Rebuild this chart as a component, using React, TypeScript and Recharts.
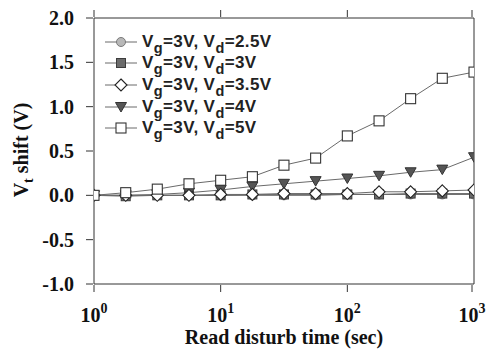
import { LineChart, Line, XAxis, YAxis } from 'recharts'

// ── Data ──────────────────────────────────────────────────────────────────────

const TIMES = [1, 1.78, 3.16, 5.62, 10, 17.8, 31.6, 56.2, 100, 178, 316, 562, 1000]
const VD25 = [0, 0, 0, 0, 0, 0, 0, 0, 0.01, 0.01, 0.01, 0.01, 0.01]
const VD3 = [0, -0.01, 0, 0, 0, 0.01, 0.01, 0.01, 0.01, 0.01, 0.02, 0.02, 0.02]
const VD35 = [0, 0, 0, 0, 0.01, 0.01, 0.02, 0.02, 0.02, 0.04, 0.04, 0.05, 0.06]
const VD4 = [0, 0, 0.01, 0.03, 0.06, 0.1, 0.13, 0.16, 0.19, 0.22, 0.26, 0.29, 0.43]
const VD5 = [0, 0.03, 0.07, 0.13, 0.17, 0.21, 0.34, 0.42, 0.67, 0.84, 1.09, 1.32, 1.39]

const X_TICKS = [1, 10, 100, 1000]
const X_EXP = ['0', '1', '2', '3']
const Y_TICKS = [-1, -0.5, 0, 0.5, 1, 1.5, 2]

const rows = TIMES.map((t, i) => ({
  t,
  vd25: VD25[i],
  vd3: VD3[i],
  vd35: VD35[i],
  vd4: VD4[i],
  vd5: VD5[i],
}))

const SERIF = '"Liberation Serif", "Times New Roman", serif'
const SANS = '"Liberation Sans", Arial, sans-serif'
const LINE = '#6a6a6a'

// ── Markers ───────────────────────────────────────────────────────────────────

type Kind = 'circle' | 'dsquare' | 'diamond' | 'tri' | 'square'

function Marker({ kind, cx, cy }: { kind: Kind; cx: number; cy: number }) {
  switch (kind) {
    case 'circle':
      return <circle cx={cx} cy={cy} r={4.5} fill="#b8b8b8" stroke="#7a7a7a" strokeWidth={1} />
    case 'dsquare':
      return <rect x={cx - 4.5} y={cy - 4.5} width={9} height={9} fill="#6b6b6b" stroke="#3c3c3c" strokeWidth={1} />
    case 'diamond':
      return (
        <path
          d={`M${cx},${cy - 6}L${cx + 6},${cy}L${cx},${cy + 6}L${cx - 6},${cy}Z`}
          fill="#fff"
          stroke="#222"
          strokeWidth={1.1}
        />
      )
    case 'tri':
      return (
        <path
          d={`M${cx - 5.5},${cy - 4.5}L${cx + 5.5},${cy - 4.5}L${cx},${cy + 5}Z`}
          fill="#555"
          stroke="#333"
          strokeWidth={1}
        />
      )
    default:
      return <rect x={cx - 5} y={cy - 5} width={10} height={10} fill="#fff" stroke="#333" strokeWidth={1.1} />
  }
}

const dotFor = (kind: Kind) =>
  // eslint-disable-next-line @typescript-eslint/no-explicit-any
  (p: any) => <Marker key={`${kind}-${p.index}`} kind={kind} cx={p.cx} cy={p.cy} />

const SERIES: { key: string; kind: Kind; vd: string }[] = [
  { key: 'vd25', kind: 'circle', vd: '2.5V' },
  { key: 'vd3', kind: 'dsquare', vd: '3V' },
  { key: 'vd35', kind: 'diamond', vd: '3.5V' },
  { key: 'vd4', kind: 'tri', vd: '4V' },
  { key: 'vd5', kind: 'square', vd: '5V' },
]

// draw order so diamonds sit over the triangles near zero
const DRAW_ORDER = ['vd25', 'vd3', 'vd4', 'vd35', 'vd5']

// ── Ticks ─────────────────────────────────────────────────────────────────────

// eslint-disable-next-line @typescript-eslint/no-explicit-any
function XTick({ x, y, payload, index }: any) {
  return (
    <g>
      <line x1={x} y1={y} x2={x} y2={y - 7} stroke="#333" strokeWidth={1} />
      <text x={x} y={y + 30} textAnchor="middle" fontFamily={SERIF} fontWeight="bold" fontSize={20} fill="#111">
        10
        <tspan dy={-9} fontSize={14}>{X_EXP[index] ?? String(Math.round(Math.log10(payload.value)))}</tspan>
      </text>
    </g>
  )
}

// eslint-disable-next-line @typescript-eslint/no-explicit-any
function TopTick({ x, y }: any) {
  return <line x1={x} y1={y} x2={x} y2={y + 7} stroke="#333" strokeWidth={1} />
}

// eslint-disable-next-line @typescript-eslint/no-explicit-any
function YTick({ x, y, payload }: any) {
  return (
    <g>
      <line x1={x} y1={y} x2={x + 7} y2={y} stroke="#333" strokeWidth={1} />
      <text x={x - 12} y={y + 7} textAnchor="end" fontFamily={SERIF} fontWeight="bold" fontSize={20} fill="#111">
        {payload.value.toFixed(1)}
      </text>
    </g>
  )
}

// eslint-disable-next-line @typescript-eslint/no-explicit-any
function RightTick({ x, y }: any) {
  return <line x1={x} y1={y} x2={x - 7} y2={y} stroke="#333" strokeWidth={1} />
}

// ── Legend ────────────────────────────────────────────────────────────────────

function LegendBox() {
  return (
    <div
      style={{
        position: 'absolute',
        left: 105,
        top: 31,
        fontFamily: SANS,
        fontWeight: 'bold',
        fontSize: 17,
        letterSpacing: 0.4,
        color: '#222',
      }}
    >
      {SERIES.map((s) => (
        <div key={s.key} style={{ display: 'flex', alignItems: 'center', height: 21.6 }}>
          <svg width={37} height={20} style={{ display: 'block' }}>
            <line x1={0} y1={10} x2={32} y2={10} stroke={LINE} strokeWidth={1} />
            <Marker kind={s.kind} cx={16} cy={10} />
          </svg>
          <span style={{ lineHeight: '20px', whiteSpace: 'nowrap' }}>
            V<sub style={{ fontSize: 14.5, verticalAlign: -6, lineHeight: 0 }}>g</sub>=3V, V
            <sub style={{ fontSize: 14.5, verticalAlign: -6, lineHeight: 0 }}>d</sub>={s.vd}
          </span>
        </div>
      ))}
    </div>
  )
}

// ── Component ─────────────────────────────────────────────────────────────────

export default function App() {
  return (
    <div style={{ position: 'absolute', left: 0, top: 0, width: 488, height: 351, background: '#fff' }}>
      <LineChart width={488} height={351} data={rows} margin={{ top: 17, right: 13, bottom: 0, left: 0 }}>
        <XAxis
          xAxisId="b"
          dataKey="t"
          type="number"
          scale="log"
          domain={[1, 1000]}
          ticks={X_TICKS}
          tick={<XTick />}
          tickLine={false}
          axisLine={{ stroke: '#333' }}
          height={67}
          allowDataOverflow
        />
        <XAxis
          xAxisId="t"
          orientation="top"
          dataKey="t"
          type="number"
          scale="log"
          domain={[1, 1000]}
          ticks={X_TICKS}
          tick={<TopTick />}
          tickLine={false}
          axisLine={{ stroke: '#333' }}
          height={1}
          allowDataOverflow
        />
        <YAxis
          yAxisId="l"
          type="number"
          domain={[-1, 2]}
          ticks={Y_TICKS}
          tick={<YTick />}
          tickLine={false}
          axisLine={{ stroke: '#333' }}
          width={94}
          label={{
            content: () => (
              <text
                transform="translate(28,150) rotate(-90)"
                textAnchor="middle"
                fontFamily={SERIF}
                fontWeight="bold"
                fontSize={20}
                fill="#111"
              >
                V<tspan dy={5} fontSize={14}>t</tspan>
                <tspan dy={-5}> shift (V)</tspan>
              </text>
            ),
          }}
        />
        <YAxis
          yAxisId="r"
          orientation="right"
          type="number"
          domain={[-1, 2]}
          ticks={Y_TICKS}
          tick={<RightTick />}
          tickLine={false}
          axisLine={{ stroke: '#333' }}
          width={1}
        />
        {DRAW_ORDER.map((k) => {
          const s = SERIES.find((q) => q.key === k)!
          return (
            <Line
              key={k}
              xAxisId="b"
              yAxisId="l"
              dataKey={k}
              stroke={LINE}
              strokeWidth={1}
              dot={dotFor(s.kind)}
              activeDot={false}
              isAnimationActive={false}
            />
          )
        })}
      </LineChart>
      <LegendBox />
      <div
        style={{
          position: 'absolute',
          left: 94,
          width: 380,
          top: 326,
          textAlign: 'center',
          fontFamily: SERIF,
          fontWeight: 'bold',
          fontSize: 20,
          lineHeight: '22px',
          color: '#111',
        }}
      >
        Read disturb time (sec)
      </div>
    </div>
  )
}
